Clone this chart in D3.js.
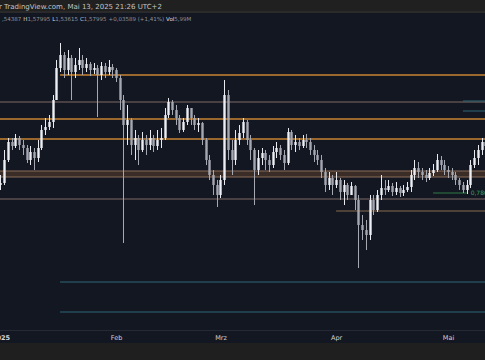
<!DOCTYPE html>
<html><head><meta charset="utf-8">
<script src="https://cdn.jsdelivr.net/npm/d3@7/dist/d3.min.js"></script>
<style>html,body{margin:0;padding:0;background:#131722;overflow:hidden}svg{display:block}</style>
</head><body><svg id="c" width="485" height="360"></svg>
<script>
// ---- data ----
const startDate = "2024-12-31";
const closes = [1.490,1.494,1.540,1.576,1.568,1.584,1.570,1.564,1.540,1.556,1.544,1.564,1.600,1.606,1.616,1.660,1.724,1.750,1.720,1.744,1.716,1.730,1.740,1.724,1.732,1.720,1.724,1.710,1.728,1.716,1.726,1.720,1.704,1.660,1.610,1.620,1.570,1.584,1.560,1.580,1.570,1.584,1.568,1.580,1.584,1.630,1.656,1.640,1.624,1.600,1.616,1.644,1.624,1.610,1.614,1.580,1.540,1.510,1.490,1.470,1.500,1.670,1.560,1.540,1.580,1.594,1.616,1.580,1.560,1.520,1.544,1.554,1.540,1.530,1.556,1.564,1.550,1.534,1.596,1.570,1.576,1.568,1.580,1.576,1.560,1.550,1.540,1.516,1.490,1.504,1.490,1.500,1.476,1.490,1.470,1.488,1.460,1.410,1.400,1.390,1.460,1.440,1.470,1.484,1.480,1.488,1.476,1.484,1.474,1.480,1.486,1.510,1.524,1.516,1.510,1.504,1.514,1.520,1.540,1.530,1.520,1.516,1.510,1.500,1.490,1.480,1.490,1.530,1.544,1.560,1.576,1.568];
const highs = [1.504,1.510,1.560,1.584,1.584,1.592,1.588,1.580,1.570,1.568,1.564,1.580,1.610,1.624,1.630,1.670,1.740,1.774,1.756,1.760,1.750,1.744,1.764,1.750,1.744,1.736,1.734,1.730,1.736,1.734,1.740,1.732,1.724,1.710,1.670,1.650,1.624,1.600,1.590,1.596,1.590,1.600,1.590,1.600,1.604,1.644,1.664,1.660,1.650,1.630,1.624,1.650,1.644,1.630,1.624,1.616,1.584,1.550,1.520,1.500,1.510,1.700,1.680,1.580,1.600,1.610,1.624,1.620,1.590,1.564,1.560,1.564,1.560,1.550,1.568,1.576,1.570,1.560,1.604,1.600,1.590,1.584,1.590,1.592,1.584,1.570,1.560,1.550,1.524,1.516,1.510,1.516,1.504,1.500,1.494,1.496,1.490,1.470,1.430,1.420,1.470,1.470,1.480,1.510,1.500,1.500,1.494,1.496,1.488,1.490,1.496,1.520,1.540,1.536,1.524,1.520,1.524,1.532,1.552,1.548,1.540,1.528,1.524,1.516,1.504,1.496,1.500,1.540,1.560,1.570,1.584,1.580];
const lows = [1.476,1.480,1.490,1.536,1.560,1.564,1.560,1.550,1.534,1.530,1.520,1.536,1.560,1.590,1.600,1.604,1.660,1.716,1.704,1.710,1.660,1.704,1.720,1.710,1.716,1.708,1.712,1.626,1.700,1.704,1.710,1.704,1.696,1.640,1.374,1.570,1.550,1.540,1.530,1.556,1.550,1.560,1.556,1.560,1.564,1.580,1.624,1.630,1.610,1.594,1.596,1.610,1.610,1.600,1.596,1.570,1.530,1.500,1.470,1.446,1.464,1.490,1.540,1.510,1.530,1.570,1.584,1.570,1.540,1.450,1.510,1.530,1.520,1.516,1.524,1.544,1.540,1.520,1.530,1.560,1.556,1.560,1.564,1.564,1.550,1.536,1.530,1.504,1.476,1.480,1.470,1.484,1.460,1.450,1.460,1.470,1.440,1.324,1.380,1.360,1.380,1.430,1.436,1.460,1.470,1.476,1.468,1.470,1.466,1.468,1.476,1.476,1.500,1.504,1.500,1.496,1.500,1.508,1.516,1.520,1.510,1.504,1.500,1.490,1.480,1.474,1.472,1.484,1.524,1.530,1.550,1.560];
const firstOpen = 1.480;

const tickDates = ["2025-01-01","2025-02-01","2025-03-01","2025-04-01","2025-05-01"];
const tickLabels = ["2025","Feb","Mrz","Apr","Mai"];

const orangeLevels = [1.710, 1.622, 1.582];
const orangeStarts = ["2025-01-17", null, null];
const tanLevels = [1.656, 1.462, 1.438];
const tanStarts = [null, null, "2025-04-01"];
const bandLevels = [1.506, 1.518];
const cyanLevels = [1.296, 1.236, 1.658, 1.638];
const cyanStarts = ["2025-01-17","2025-01-17","2025-05-05","2025-05-05"];
const fibLevel = 1.474, fibRange = ["2025-04-27","2025-05-06"], fibLabel = "0,786";

const headerText = "r TradingView.com, Mai 13, 2025 21:26 UTC+2";
const legendParts = [["",",54387"],["H","1,57995"],["L","1,53615"],["C","1,57995"],["","+0,03589 (+1,41%)"],["Vol","5,99M"]];

// ---- layout ----
const W = 485, H = 360, plotTop = 13, plotBottom = 330;
const svg = d3.select("#c");
const parse = d3.utcParse("%Y-%m-%d");
const d0 = parse(startDate);
const dates = closes.map((_, i) => d3.utcDay.offset(d0, i));
const data = closes.map((c, i) => ({date: dates[i], open: i ? closes[i-1] : firstOpen, high: highs[i], low: lows[i], close: c}));

const x = d3.scaleUtc().domain([parse("2025-01-01"), parse("2025-05-01")]).range([0.4, 448]);
const y = d3.scaleLinear().domain([1.20, 1.836]).range([plotBottom, 12]);

svg.append("rect").attr("width", W).attr("height", H).attr("fill", "#131722");
svg.append("defs").append("clipPath").attr("id","pc").append("rect").attr("x",0).attr("y",plotTop).attr("width",W).attr("height",plotBottom-plotTop);
const g = svg.append("g").attr("clip-path","url(#pc)");

const xs = d => d ? x(parse(d)) : -10;
// band
g.append("rect").attr("x", -10).attr("width", W + 20)
  .attr("y", y(bandLevels[1])).attr("height", y(bandLevels[0]) - y(bandLevels[1]))
  .attr("fill", "#3a2c27");
bandLevels.forEach(v => g.append("line").attr("x1",-10).attr("x2",W+10).attr("y1",y(v)).attr("y2",y(v)).attr("stroke","#8a6d5a").attr("stroke-width",1.2));
tanLevels.forEach((v,i) => g.append("line").attr("x1",xs(tanStarts[i])).attr("x2",W+10).attr("y1",y(v)).attr("y2",y(v)).attr("stroke", i===2 ? "#8a6e4e" : "#7e6b62").attr("stroke-width",1.2));
orangeLevels.forEach((v,i) => g.append("line").attr("x1",xs(orangeStarts[i])).attr("x2",W+10).attr("y1",y(v)).attr("y2",y(v)).attr("stroke","#c98530").attr("stroke-width",1.6));
cyanLevels.forEach((v,i) => g.append("line").attr("x1",xs(cyanStarts[i])).attr("x2",W+10).attr("y1",y(v)).attr("y2",y(v)).attr("stroke","#2f6676").attr("stroke-width",1.1));
g.append("line").attr("x1",xs(fibRange[0])).attr("x2",xs(fibRange[1])).attr("y1",y(fibLevel)).attr("y2",y(fibLevel)).attr("stroke","#2f7a45").attr("stroke-width",1.2);
g.append("text").attr("x", xs(fibRange[1]) + 4).attr("y", y(fibLevel) + 2).attr("fill","#3fa35a").attr("font-family","DejaVu Sans, sans-serif").attr("font-size",6).text(fibLabel);

// candles
const bw = 2.4;
const cg = g.append("g");
cg.selectAll("line.w").data(data).join("line").attr("class","w")
  .attr("x1", d => Math.round(x(d.date)) + 0.5).attr("x2", d => Math.round(x(d.date)) + 0.5)
  .attr("y1", d => y(d.high)).attr("y2", d => y(d.low))
  .attr("stroke", d => d.close >= d.open ? "#e8eaf0" : "#a5a8b1").attr("stroke-width", 1);
cg.selectAll("rect.b").data(data).join("rect").attr("class","b")
  .attr("x", d => Math.round(x(d.date)) + 0.5 - bw/2).attr("width", bw)
  .attr("y", d => y(Math.max(d.open, d.close)))
  .attr("height", d => Math.max(1, Math.abs(y(d.open) - y(d.close))))
  .attr("fill", d => d.close >= d.open ? "#eceef3" : "#a5a8b1");

// header
svg.append("rect").attr("width", W).attr("height", 11).attr("fill", "#202020");
svg.append("rect").attr("y", 11).attr("width", W).attr("height", 2).attr("fill", "#2a2a2a");
svg.append("text").attr("x", -1).attr("y", 8.5).attr("fill", "#c4c4c4").attr("font-family","DejaVu Sans, sans-serif").attr("font-size", 7).text(headerText);
const lt = svg.append("text").attr("x", 0).attr("y", 21).attr("font-family","DejaVu Sans, sans-serif").attr("font-size", 5.5);
legendParts.forEach(p => {
  if (p[0]) lt.append("tspan").attr("fill","#d8dae0").attr("dx", 2).text(p[0]);
  lt.append("tspan").attr("fill","#8f939c").attr("dx", p[0] ? 0 : 2).text(p[1]);
});

// time axis
svg.append("rect").attr("y", plotBottom).attr("width", W).attr("height", 13).attr("fill", "#131722");
svg.append("line").attr("x1",0).attr("x2",W).attr("y1",plotBottom+0.5).attr("y2",plotBottom+0.5).attr("stroke","#262a35");
svg.append("rect").attr("y", 343).attr("width", W).attr("height", H-343).attr("fill", "#1f1f1f");
const ax = svg.append("g").attr("transform", `translate(0,${plotBottom + 3})`)
  .call(d3.axisBottom(x).tickValues(tickDates.map(parse)).tickSize(0).tickFormat((d,i) => tickLabels[i]));
ax.select(".domain").remove();
ax.selectAll("text").attr("fill","#d1d4dc").attr("font-family","DejaVu Sans, sans-serif").attr("font-size",6.5).attr("dy","0.6em")
  .attr("font-weight",(d,i) => i===0 ? "bold" : "normal");
</script></body></html>
